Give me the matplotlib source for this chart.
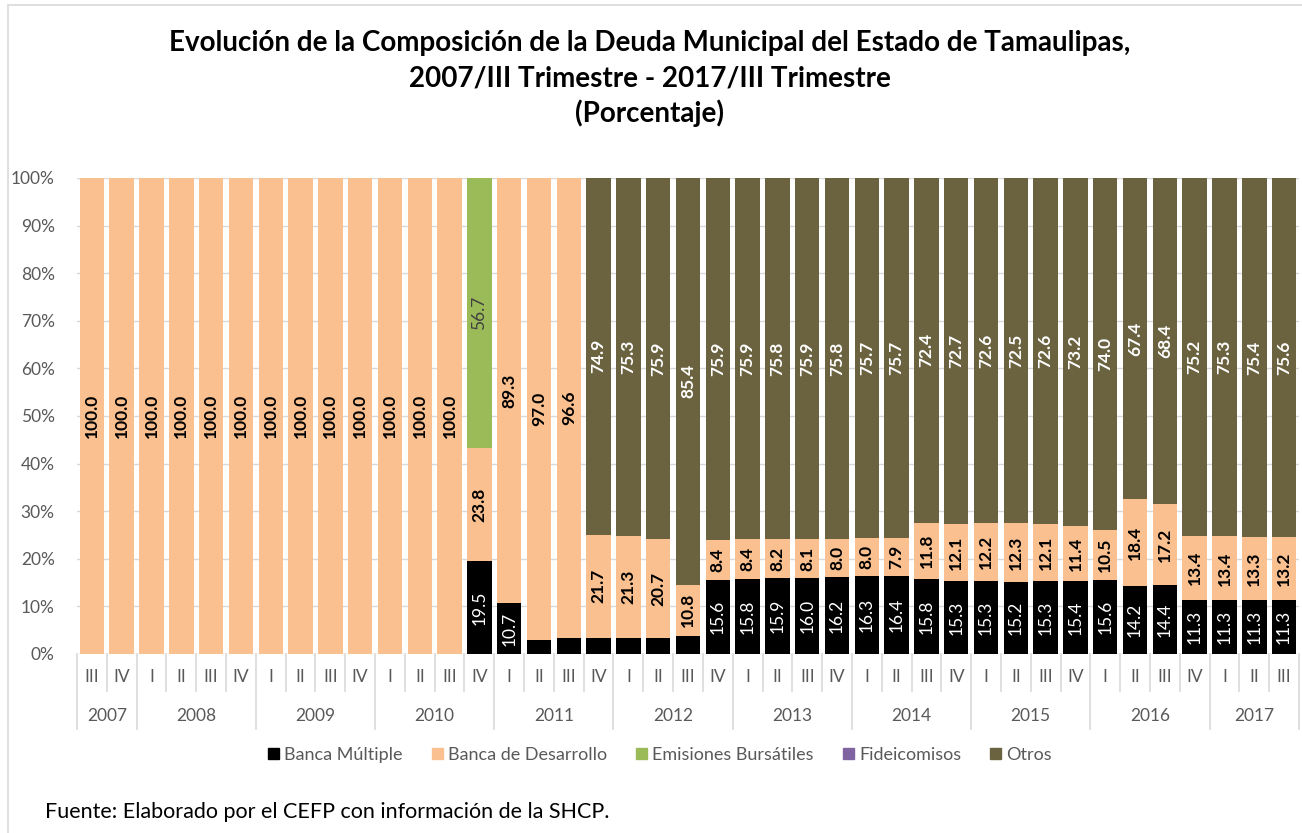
import matplotlib
matplotlib.use("Agg")
import matplotlib.pyplot as plt
from matplotlib.patches import Rectangle
from matplotlib.lines import Line2D
import matplotlib.transforms as mtransforms
import numpy as np

plt.rcParams['font.family'] = ['Lato', 'DejaVu Sans']

quarters = ["III", "IV",
            "I", "II", "III", "IV",
            "I", "II", "III", "IV",
            "I", "II", "III", "IV",
            "I", "II", "III", "IV",
            "I", "II", "III", "IV",
            "I", "II", "III", "IV",
            "I", "II", "III", "IV",
            "I", "II", "III", "IV",
            "I", "II", "III", "IV",
            "I", "II", "III"]
years = ["2007", "2008", "2009", "2010", "2011", "2012", "2013", "2014", "2015", "2016", "2017"]
quarters_per_year = [2, 4, 4, 4, 4, 4, 4, 4, 4, 4, 3]

banca_multiple = [0, 0, 0, 0, 0, 0, 0, 0, 0, 0, 0, 0, 0,
                  19.5, 10.7, 3.0, 3.4, 3.4, 3.4, 3.4, 3.8, 15.6,
                  15.8, 15.9, 16.0, 16.2, 16.3, 16.4, 15.8, 15.3,
                  15.3, 15.2, 15.3, 15.4, 15.6, 14.2, 14.4, 11.3,
                  11.3, 11.3, 11.3]
banca_desarrollo = [100.0, 100.0, 100.0, 100.0, 100.0, 100.0, 100.0, 100.0, 100.0, 100.0, 100.0, 100.0, 100.0,
                    23.8, 89.3, 97.0, 96.6, 21.7, 21.3, 20.7, 10.8, 8.4,
                    8.4, 8.2, 8.1, 8.0, 8.0, 7.9, 11.8, 12.1,
                    12.2, 12.3, 12.1, 11.4, 10.5, 18.4, 17.2, 13.4,
                    13.4, 13.3, 13.2]
emisiones = [0, 0, 0, 0, 0, 0, 0, 0, 0, 0, 0, 0, 0,
             56.7, 0, 0, 0, 0, 0, 0, 0, 0,
             0, 0, 0, 0, 0, 0, 0, 0,
             0, 0, 0, 0, 0, 0, 0, 0,
             0, 0, 0]
fideicomisos = [0] * 41
otros = [0, 0, 0, 0, 0, 0, 0, 0, 0, 0, 0, 0, 0,
         0, 0, 0, 0, 74.9, 75.3, 75.9, 85.4, 75.9,
         75.9, 75.8, 75.9, 75.8, 75.7, 75.7, 72.4, 72.7,
         72.6, 72.5, 72.6, 73.2, 74.0, 67.4, 68.4, 75.2,
         75.3, 75.4, 75.6]

series_names = ["Banca Múltiple", "Banca de Desarrollo", "Emisiones Bursátiles", "Fideicomisos", "Otros"]
series_colors = ["#000000", "#FAC090", "#9BBB59", "#8064A2", "#6B6340"]
label_colors = ["white", "black", "#404040", "white", "white"]
label_weights = ["normal", "bold", "normal", "normal", "bold"]

data = np.array([banca_multiple, banca_desarrollo, emisiones, fideicomisos, otros], dtype=float)
totals = data.sum(axis=0)
pct = data / totals * 100.0

W, H = 1302, 833
fig = plt.figure(figsize=(W / 100, H / 100), dpi=100)

# chart border
fig.add_artist(Rectangle((8 / W, -0.01), 1.2, (833 - 5) / H + 0.01, transform=fig.transFigure,
                         fill=False, edgecolor="#D9D9D9", linewidth=1.2))

ax_left, ax_right, ax_top, ax_bot = 77, 1299, 178, 654
ax = fig.add_axes([ax_left / W, (H - ax_bot) / H, (ax_right - ax_left) / W, (ax_bot - ax_top) / H])

n = len(quarters)
x = np.arange(n)
bottom = np.zeros(n)
for k in range(len(series_names)):
    ax.bar(x, pct[k], width=0.82, bottom=bottom, color=series_colors[k], zorder=2, linewidth=0)
    for i in range(n):
        v = data[k, i]
        if v >= 5:
            ax.text(x[i], bottom[i] + pct[k, i] / 2, f"{v:.1f}", rotation=90, ha="center", va="center",
                    color=label_colors[k], fontsize=12.5, fontweight=label_weights[k], zorder=3)
    bottom += pct[k]

ax.set_xlim(-0.5, n - 0.5)
ax.set_ylim(0, 100)
ax.set_yticks(np.arange(0, 101, 10))
ax.set_yticklabels([f"{t}%" for t in range(0, 101, 10)])
ax.tick_params(axis="y", length=0, pad=16, labelsize=12.5, labelcolor="#595959")
ax.set_xticks([])
ax.grid(axis="y", color="#D9D9D9", linewidth=1.0, zorder=0)
for s in ax.spines.values():
    s.set_visible(False)

# multi-level category axis
trans = mtransforms.blended_transform_factory(ax.transData, ax.transAxes)
sep_col = "#D9D9D9"
y_q = (ax_bot - 677) / (ax_bot - ax_top)
y_qsep = (ax_bot - 691) / (ax_bot - ax_top)
y_yr = (ax_bot - 716) / (ax_bot - ax_top)
y_ysep = (ax_bot - 729) / (ax_bot - ax_top)

for i in range(n):
    ax.text(x[i], y_q, quarters[i], transform=trans, ha="center", va="center",
            fontsize=12.5, color="#595959")
year_bounds = [0]
for c in quarters_per_year:
    year_bounds.append(year_bounds[-1] + c)
for i in range(n + 1):
    xb = i - 0.5
    if i in year_bounds:
        ax.add_line(Line2D([xb, xb], [0, y_ysep], transform=trans, color=sep_col, lw=1.2, clip_on=False))
    else:
        ax.add_line(Line2D([xb, xb], [0, y_qsep], transform=trans, color=sep_col, lw=1.2, clip_on=False))
for j, yr in enumerate(years):
    xc = (year_bounds[j] + year_bounds[j + 1] - 1) / 2
    ax.text(xc, y_yr, yr, transform=trans, ha="center", va="center", fontsize=12.5, color="#595959")

# title
title_lines = ["Evolución de la Composición de la Deuda Municipal del Estado de Tamaulipas,",
               "2007/III Trimestre - 2017/III Trimestre",
               "(Porcentaje)"]
for j, t in enumerate(title_lines):
    fig.text(650 / W, 1 - (43 + 35 * j) / H, t, ha="center", va="center", fontsize=20,
             fontweight="bold", color="black")

# legend
handles = [Rectangle((0, 0), 1, 1, color=c) for c in series_colors]
leg = fig.legend(handles, series_names, loc="center", bbox_to_anchor=(660 / W, 1 - 755 / H),
                 ncol=5, frameon=False, fontsize=13, handlelength=0.6, handleheight=0.6,
                 handletextpad=0.3, columnspacing=1.6, labelcolor="#595959")

fig.text(45 / W, 1 - 812 / H, "Fuente: Elaborado por el CEFP con información de la SHCP.",
         ha="left", va="center", fontsize=15.5, color="black")

fig.savefig("out.png", dpi=100)
